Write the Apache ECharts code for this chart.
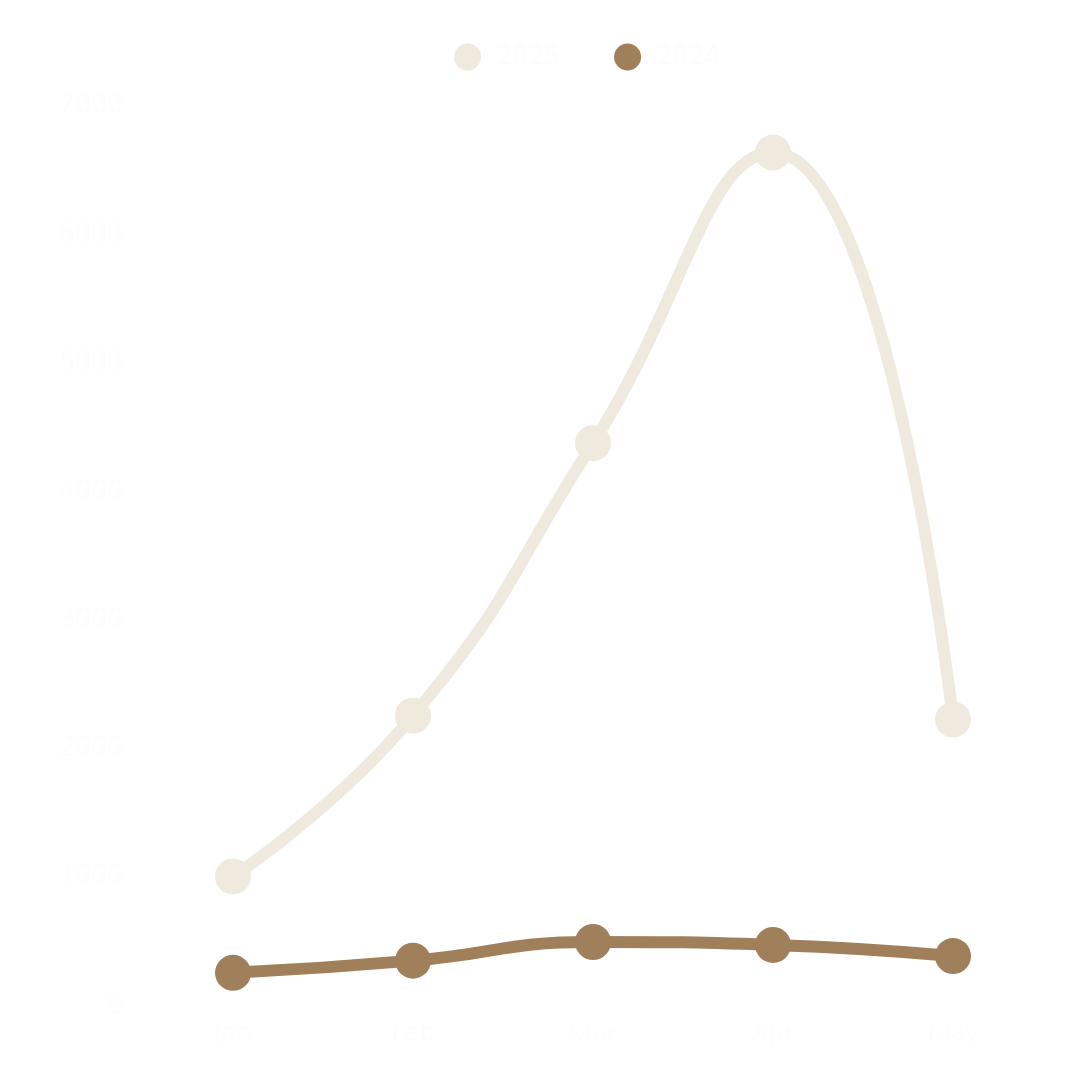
<!DOCTYPE html>
<html>
<head>
    <meta charset="utf-8">
    <title>2025 vs 2024</title>
    <style>
        html, body { margin: 0; padding: 0; background: #ffffff; }
        #main { width: 1080px; height: 1080px; }
    </style>
</head>
<body>
    <div id="main"></div>
</body>
<script type="text/javascript" src="https://cdn.jsdelivr.net/npm/echarts@6/dist/echarts.min.js"></script>
<script type="text/javascript">
    // 数据
    var months = ['Jan', 'Feb', 'Mar', 'Apr', 'May'];
    var values2025 = [1000, 2250, 4370, 6630, 2220];
    var values2024 = [250, 345, 490, 467, 381];
    var seriesNames = ['2025', '2024'];
    var seriesColors = ['#F0E9DE', '#A0805A'];
    var textColor = '#fdfdfd';

    var myChart = echarts.init(document.getElementById('main'));

    function lineSeries(name, data, color) {
        return {
            name: name,
            type: 'line',
            smooth: true,
            data: data,
            symbol: 'circle',
            symbolSize: 36,
            itemStyle: { color: color },
            lineStyle: { color: color, width: 12 }
        };
    }

    var option = {
        backgroundColor: '#ffffff',
        textStyle: { fontFamily: 'Noto Sans' },
        legend: {
            top: 38,
            left: 449,
            itemWidth: 27,
            itemHeight: 27,
            itemGap: 54,
            icon: 'circle',
            data: seriesNames,
            textStyle: { color: textColor, fontSize: 28, fontWeight: 'bold', padding: [0, 0, 0, 10] }
        },
        grid: {
            left: 143,
            right: 37,
            top: 105,
            bottom: 75
        },
        xAxis: {
            type: 'category',
            data: months,
            axisLine: { show: false },
            axisTick: { show: false },
            axisLabel: { color: textColor, fontSize: 26, margin: 16 }
        },
        yAxis: {
            type: 'value',
            min: 0,
            max: 7000,
            interval: 1000,
            splitLine: { show: false },
            axisLine: { show: false },
            axisTick: { show: false },
            axisLabel: {
                color: textColor,
                fontSize: 28,
                margin: 20,
                formatter: function(v) { return String(v); }
            }
        },
        series: [
            lineSeries(seriesNames[0], values2025, seriesColors[0]),
            lineSeries(seriesNames[1], values2024, seriesColors[1])
        ]
    };

    myChart.setOption(option);
</script>
</html>
